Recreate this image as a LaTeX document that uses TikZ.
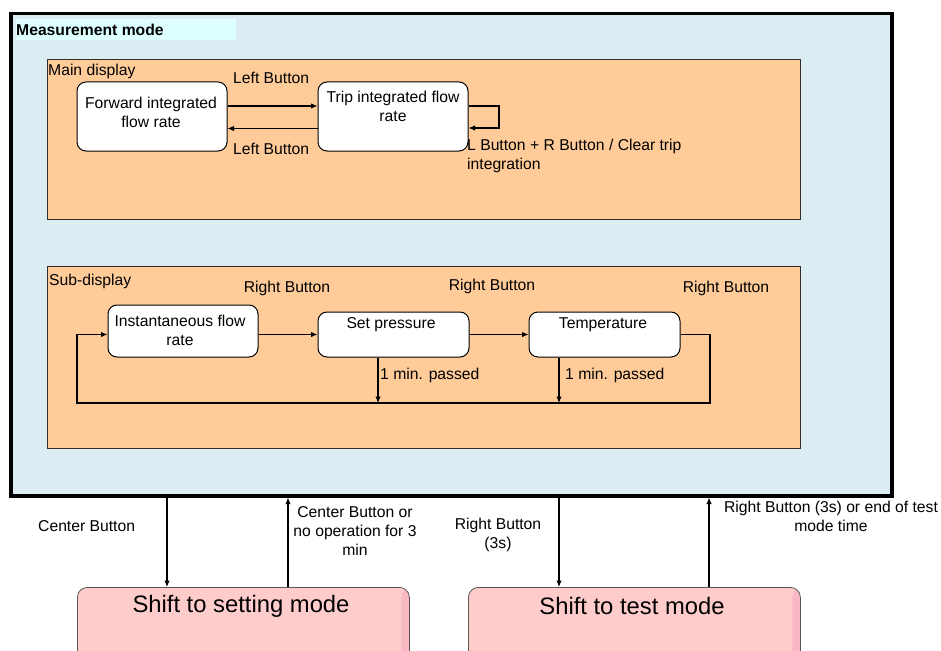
\documentclass[tikz,border=0pt]{standalone}
\usepackage{fontspec}
\setmainfont{Liberation Sans}
\usetikzlibrary{arrows.meta,calc}
\definecolor{outerfill}{RGB}{219,237,243}
\definecolor{titlefill}{RGB}{221,255,255}
\definecolor{orange}{RGB}{255,204,153}
\definecolor{pinkfill}{RGB}{255,204,204}
\definecolor{pinkstripe}{RGB}{247,184,196}
\definecolor{edge}{RGB}{50,45,40}
\tikzset{
  lbl/.style={font=\fontsize{15.7}{19}\selectfont, inner sep=0pt, align=center},
  lbll/.style={lbl, align=left, anchor=west},
  region/.style={draw=edge, line width=0.9pt, fill=orange, anchor=north west, inner sep=0pt},
  statebox/.style={draw=black, line width=1pt, fill=white, rounded corners=9pt, inner sep=0pt},
  modebox/.style={draw=edge!80, line width=0.8pt, fill=pinkfill, rounded corners=10pt, inner sep=0pt,
    path picture={\fill[pinkstripe] ([xshift=-8pt]path picture bounding box.north east) rectangle (path picture bounding box.south east);}},
  arr/.style={line width=1.1pt, -{Latex[length=6.5pt,width=5.5pt]}},
}
\begin{document}
\begin{tikzpicture}[x=1pt,y=-1pt]
\useasboundingbox (0,0) rectangle (941,650);
% outer measurement mode box
\node[draw=black, line width=3.5pt, fill=outerfill, anchor=north west, inner sep=0pt,
  minimum width=881pt, minimum height=482pt] (meas) at (9,12) {};
\fill[titlefill] (16,19) rectangle (236,40);
\node[lbll, font=\bfseries\fontsize{15.7}{19}\selectfont] (meastitle) at (16,29.5) {Measurement mode};
% regions
\node[region, minimum width=753pt, minimum height=160pt] (maind) at (47,59) {};
\node[lbll] (maintitle) at (48,71) {Main display};
\node[region, minimum width=753pt, minimum height=182pt] (subd) at (47,266) {};
\node[lbll] (subtitle) at (49,281) {Sub-display};
% main display states
\node[statebox, minimum width=150pt, minimum height=69pt] (fwd) at (152,116.5) {};
\node[lbl] (fwdtext) at (151,112.5) {Forward integrated\\flow rate};
\node[statebox, minimum width=150pt, minimum height=69pt] (trip) at (393,116.5) {};
\node[lbl] (triptext) at (393,106) {Trip integrated flow\\rate};
\draw[arr] ($(fwd.east)+(0,-10.5)$) -- ($(trip.west)+(0,-10.5)$);
\draw[arr] ($(trip.west)+(0,12)$) -- ($(fwd.east)+(0,12)$);
\node[lbll] (lb1) at (233,78) {Left Button};
\node[lbll] (lb2) at (233,149) {Left Button};
\coordinate (loopx) at (499,0);
\draw[arr] ($(trip.east)+(0,-10.5)$) -| (loopx |- {$(trip.east)+(0,11.5)$}) -- ($(trip.east)+(0,11.5)$);
\node[lbll, anchor=north west] (cleartext) at (467,139) {L Button + R Button / Clear trip\\integration};
% sub-display states
\node[statebox, minimum width=150pt, minimum height=52pt] (inst) at (183,331) {};
\node[lbl] (insttext) at (180,330) {Instantaneous flow\\rate};
\node[statebox, minimum width=151pt, minimum height=45pt] (setp) at (393.5,334.5) {};
\node[lbl] (setptext) at (391,325) {Set pressure};
\node[statebox, minimum width=151pt, minimum height=45pt] (temp) at (604.5,334.5) {};
\node[lbl] (temptext) at (603,325) {Temperature};
\draw[arr] (inst.east |- setp.west) -- (setp.west);
\draw[arr] (setp.east) -- (temp.west);
\coordinate (loopR) at (710,403);
\coordinate (loopL) at (77,403);
\draw[arr] (temp.east) -| (loopR) -- (loopL) |- (inst.west |- setp.west);
\coordinate (d1) at (378,0);
\coordinate (d2) at (559,0);
\draw[arr] (setp.south -| d1) -- (loopL -| d1);
\draw[arr] (temp.south -| d2) -- (loopL -| d2);
\node[lbl] (rb1) at (287,288) {Right Button};
\node[lbl] (rb2) at (492,286) {Right Button};
\node[lbl] (rb3) at (726,288) {Right Button};
\node[lbll] (min1) at (380,375) {1 min. passed};
\node[lbll] (min2) at (565,375) {1 min. passed};
% mode boxes
\node[modebox, anchor=north west, minimum width=332pt, minimum height=100pt] (setmode) at (77,587) {};
\node[lbl, font=\fontsize{23.8}{28}\selectfont] (setmodetext) at (241,606) {Shift to setting mode};
\node[modebox, anchor=north west, minimum width=332pt, minimum height=100pt] (testmode) at (468,587) {};
\node[lbl, font=\fontsize{23.8}{28}\selectfont] (testmodetext) at (632,606) {Shift to test mode};
\coordinate (b1) at (167,0);
\coordinate (b2) at (288,0);
\coordinate (b3) at (559,0);
\coordinate (b4) at (709,0);
\draw[arr] (meas.south -| b1) -- (setmode.north -| b1);
\draw[arr] (setmode.north -| b2) -- (meas.south -| b2);
\draw[arr] (meas.south -| b3) -- (testmode.north -| b3);
\draw[arr] (testmode.north -| b4) -- (meas.south -| b4);
\node[lbll] (cb) at (38,526) {Center Button};
\node[lbl] (cbor) at (355,531) {Center Button or\\no operation for 3\\min};
\node[lbl] (rb3s) at (498,535) {Right Button\\(3s)};
\node[lbl] (rbend) at (831,516) {Right Button (3s) or end of test\\mode time};
\end{tikzpicture}
\end{document}
